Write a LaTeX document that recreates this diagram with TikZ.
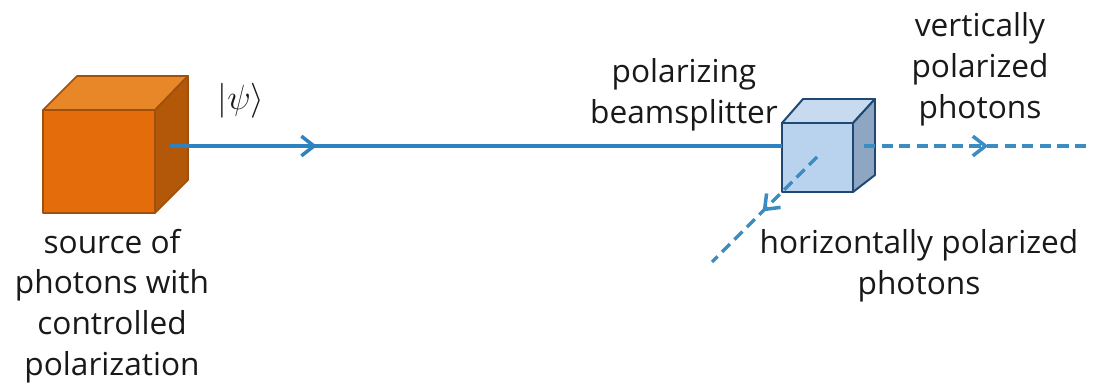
\documentclass[tikz,border=0pt]{standalone}
\usepackage{fontspec}
\setmainfont{Open Sans}
\usetikzlibrary{arrows.meta,decorations.markings}

\definecolor{beamblue}{RGB}{46,130,192}
\definecolor{dashblue}{RGB}{60,140,196}
\definecolor{srcfront}{RGB}{228,108,10}
\definecolor{srctop}{RGB}{232,135,40}
\definecolor{srcside}{RGB}{178,88,8}
\definecolor{srcedge}{RGB}{160,80,10}
\definecolor{pbsfront}{RGB}{185,211,238}
\definecolor{pbstop}{RGB}{200,218,240}
\definecolor{pbsside}{RGB}{142,166,194}
\definecolor{pbsedge}{RGB}{31,73,115}

\tikzset{
  label/.style={font=\fontsize{22.5}{29}\selectfont, align=center, text=black!90},
  beam/.style={draw=beamblue, line width=2.5pt},
  dashbeam/.style={draw=dashblue, line width=2.5pt, dash pattern=on 8pt off 4.5pt},
  midarrow/.style={postaction=decorate, decoration={markings,
      mark=at position #1 with {\arrow{Straight Barb[length=9pt,width=14pt,line width=2.5pt]}}}}
}

\begin{document}
\begin{tikzpicture}[x=0.025cm, y=-0.025cm]
  \useasboundingbox (0,0) rectangle (1100,388);

  % source cube
  \begin{scope}[draw=srcedge, line width=1.2pt, line join=round]
    \filldraw[fill=srcfront] (43,110) rectangle (155,213);
    \filldraw[fill=srctop] (43,110) -- (77,76) -- (188,76) -- (155,110) -- cycle;
    \filldraw[fill=srcside] (155,110) -- (188,76) -- (188,180) -- (155,213) -- cycle;
  \end{scope}

  % beamsplitter cube
  \begin{scope}[draw=pbsedge, line width=1.4pt, line join=round]
    \filldraw[fill=pbsfront] (782,123) rectangle (853,192);
    \filldraw[fill=pbstop] (782,123) -- (803,99) -- (875,99) -- (853,123) -- cycle;
    \filldraw[fill=pbsside] (853,123) -- (875,99) -- (875,175) -- (853,192) -- cycle;
  \end{scope}

  % beam end points
  \coordinate (src) at (170,146);
  \coordinate (pbsin) at (782,146);
  \coordinate (vout) at (864,146);
  \coordinate (vend) at (1086,146);
  \coordinate (hout) at (817,157);
  \coordinate (hend) at (712,262);

  \draw[beam, midarrow=0.24] (src) -- (pbsin);
  \draw[dashbeam, midarrow=0.56] (vout) -- (vend);
  \draw[dashbeam, midarrow=0.52] (hout) -- (hend);

  % labels
  \node[label] (ket) at (241,101) {\fontsize{26}{29}\selectfont$|\psi\rangle$};
  \node[label] (srclbl) at (112,306) {source of\\photons with\\controlled\\polarization};
  \node[label] (pbslbl) at (684,95) {polarizing\\beamsplitter};
  \node[label] (vlbl) at (980,69) {vertically\\polarized\\photons};
  \node[label] (hlbl) at (919,266) {horizontally polarized\\photons};
\end{tikzpicture}
\end{document}
